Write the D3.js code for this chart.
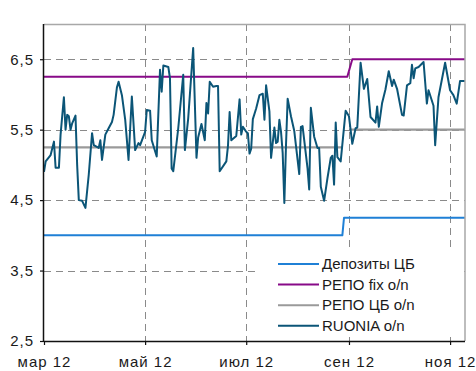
<!DOCTYPE html>
<html>
<head>
<meta charset="utf-8">
<script src="https://cdn.jsdelivr.net/npm/d3@7/dist/d3.min.js"></script>
<style>
  html, body { margin: 0; padding: 0; background: #fff; }
  svg { display: block; font-family: "Liberation Sans", Arial, sans-serif; }
</style>
</head>
<body>
<svg id="chart" width="476" height="371"></svg>
<script>
// RUONIA overnight rate, daily observations (%)
const ruoniaDates = [
  "2012-03-01","2012-03-02","2012-03-05","2012-03-07","2012-03-08","2012-03-10","2012-03-11","2012-03-13",
  "2012-03-14","2012-03-15","2012-03-16","2012-03-17","2012-03-18","2012-03-20","2012-03-21","2012-03-22",
  "2012-03-24","2012-03-26","2012-03-28","2012-03-30","2012-03-31","2012-04-03","2012-04-04","2012-04-05",
  "2012-04-07","2012-04-09","2012-04-11","2012-04-12","2012-04-14","2012-04-15","2012-04-17","2012-04-19",
  "2012-04-21","2012-04-23","2012-04-25","2012-04-27","2012-04-28","2012-05-01","2012-05-02","2012-05-04",
  "2012-05-05","2012-05-08","2012-05-10","2012-05-11","2012-05-12","2012-05-15","2012-05-16","2012-05-17",
  "2012-05-18","2012-05-21","2012-05-24","2012-05-25","2012-05-27","2012-05-30","2012-06-01","2012-06-02",
  "2012-06-04","2012-06-06","2012-06-07","2012-06-08","2012-06-09","2012-06-11","2012-06-13","2012-06-14",
  "2012-06-15","2012-06-19","2012-06-20","2012-06-21","2012-06-22","2012-06-25","2012-06-27","2012-06-28",
  "2012-06-29","2012-07-01","2012-07-02","2012-07-03","2012-07-04","2012-07-05","2012-07-07","2012-07-09",
  "2012-07-11","2012-07-12","2012-07-13","2012-07-15","2012-07-16","2012-07-18","2012-07-19","2012-07-20",
  "2012-07-21","2012-07-22","2012-07-23","2012-07-24","2012-07-25","2012-07-26","2012-07-28","2012-07-30",
  "2012-08-02","2012-08-03","2012-08-04","2012-08-07","2012-08-08","2012-08-09","2012-08-11","2012-08-13",
  "2012-08-14","2012-08-15","2012-08-17","2012-08-19","2012-08-21","2012-08-22","2012-08-23","2012-08-24",
  "2012-08-25","2012-08-27","2012-08-30","2012-09-01","2012-09-03","2012-09-05","2012-09-06","2012-09-08",
  "2012-09-10","2012-09-12","2012-09-14","2012-09-17","2012-09-18","2012-09-19","2012-09-21","2012-09-23",
  "2012-09-25","2012-09-27","2012-09-28","2012-09-30","2012-10-03","2012-10-04","2012-10-06","2012-10-08",
  "2012-10-09","2012-10-10","2012-10-11","2012-10-13","2012-10-16","2012-10-18","2012-10-19","2012-10-22",
  "2012-10-23","2012-10-25","2012-10-29","2012-11-01","2012-11-03","2012-11-05","2012-11-07","2012-11-10"
];
const ruoniaValues = [
  4.90, 5.05, 5.14, 5.33, 4.96, 4.96, 5.43, 5.96,
  5.50, 5.71, 5.69, 5.50, 5.59, 5.70, 5.00, 4.50,
  4.49, 4.39, 4.86, 5.45, 5.28, 5.24, 5.35, 5.07,
  5.43, 5.52, 5.61, 5.71, 6.10, 6.18, 5.99, 5.64,
  5.07, 5.97, 5.21, 5.31, 5.28, 5.47, 5.78, 5.77,
  5.35, 5.12, 6.35, 6.04, 6.41, 6.39, 6.23, 4.95,
  4.91, 5.52, 6.28, 5.21, 5.66, 6.66, 5.10, 5.39,
  5.58, 5.35, 5.88, 5.73, 6.18, 6.11, 6.12, 6.12,
  4.91, 5.05, 5.27, 5.75, 5.35, 5.41, 5.93, 5.43,
  5.54, 5.47, 5.45, 5.16, 5.23, 5.65, 5.80, 5.99,
  6.01, 5.64, 6.13, 5.76, 5.10, 5.53, 5.31, 5.33,
  5.64, 5.47, 5.17, 4.46, 5.28, 5.94, 5.69, 5.48,
  4.87, 5.54, 5.55, 4.95, 4.65, 5.81, 5.40, 5.24,
  5.24, 4.69, 4.49, 4.81, 5.10, 5.13, 4.72, 5.60,
  5.11, 5.05, 5.77, 5.69, 5.30, 5.52, 5.53, 6.45,
  6.08, 6.22, 5.68, 5.60, 5.83, 5.54, 5.88, 6.07,
  6.33, 6.12, 6.21, 6.08, 5.71, 5.70, 6.13, 6.16,
  6.42, 6.23, 6.37, 6.39, 6.46, 5.87, 6.06, 5.84,
  5.28, 5.96, 6.45, 6.06, 5.99, 5.87, 6.19, 6.19
];

// Central bank deposit rate (%)
const depoDates  = ["2012-03-01", "2012-08-28", "2012-08-29", "2012-11-10"];
const depoValues = [4.00, 4.00, 4.25, 4.25];

// Fixed-rate repo, overnight (%)
const repoFixDates  = ["2012-03-01", "2012-08-31", "2012-09-03", "2012-11-10"];
const repoFixValues = [6.25, 6.25, 6.50, 6.50];

// Central bank repo auction, overnight (%); null marks a break in the line
const repoCbDates  = ["2012-03-01", "2012-08-28", "2012-08-30", "2012-09-01", "2012-11-10"];
const repoCbValues = [5.25, 5.25, null, 5.50, 5.50];

// Axis ticks
const yTickValues = [2.5, 3.5, 4.5, 5.5, 6.5];
const yTickLabels = ["2,5", "3,5", "4,5", "5,5", "6,5"];
const xTickDates  = ["2012-03-01", "2012-05-01", "2012-07-01", "2012-09-01", "2012-11-01"];
const xTickLabels = ["мар 12", "май 12", "июл 12", "сен 12", "ноя 12"];

const seriesNames  = ["Депозиты ЦБ", "РЕПО fix o/n", "РЕПО ЦБ o/n", "RUONIA o/n"];
const seriesColors = ["#1f80d6", "#880a88", "#9a9a9a", "#0b5577"];

const parse = d3.utcParse("%Y-%m-%d");
const zip = (ds, vs) => ds.map((d, i) => ({ date: parse(d), value: vs[i] }));

const W = 476, H = 371;
const margin = { top: 24, right: 11, bottom: 30, left: 44 };
const iw = W - margin.left - margin.right;
const ih = H - margin.top - margin.bottom;

const svg = d3.select("#chart");
const g = svg.append("g").attr("transform", `translate(${margin.left},${margin.top})`);

const x = d3.scaleUtc()
  .domain([parse("2012-03-01"), parse("2012-11-10")])
  .range([0, iw]);
const y = d3.scaleLinear().domain([2.5, 7.0]).range([ih, 0]);

const xTicks = xTickDates.map(parse);

// Dashed grid
const grid = g.append("g").attr("stroke", "#8a8a8a").attr("stroke-width", 1)
  .attr("stroke-dasharray", "7,5").attr("fill", "none");
grid.selectAll("line.h").data(yTickValues.filter(v => v > 2.5)).join("line")
  .attr("class", "h")
  .attr("x1", 0).attr("x2", iw)
  .attr("y1", d => Math.round(y(d)) + 0.5).attr("y2", d => Math.round(y(d)) + 0.5);
grid.selectAll("line.v").data(xTicks.slice(1)).join("line")
  .attr("class", "v")
  .attr("y1", 0).attr("y2", ih)
  .attr("x1", d => Math.round(x(d)) + 0.5).attr("x2", d => Math.round(x(d)) + 0.5);

// Series lines
const line = d3.line()
  .defined(d => d.value != null)
  .x(d => x(d.date))
  .y(d => y(d.value));

const series = [
  zip(depoDates, depoValues),
  zip(repoFixDates, repoFixValues),
  zip(repoCbDates, repoCbValues),
  zip(ruoniaDates, ruoniaValues)
];
const widths = [2, 2, 2.2, 2];

series.forEach((data, i) => {
  g.append("path")
    .datum(data)
    .attr("fill", "none")
    .attr("stroke", seriesColors[i])
    .attr("stroke-width", widths[i])
    .attr("stroke-linejoin", "round")
    .attr("d", line);
});

// Frame: top and right edges
g.append("path")
  .attr("d", `M0,0.5H${iw}V${ih}`)
  .attr("fill", "none")
  .attr("stroke", "#a8a8a8")
  .attr("stroke-width", 1.5);

const tickFont = sel => sel
  .attr("font-size", 15)
  .attr("letter-spacing", 1)
  .attr("fill", "#1a1a1a")
  .attr("font-family", "Liberation Sans, Arial, sans-serif");

// Y axis
const yAxis = g.append("g")
  .call(d3.axisLeft(y)
    .tickValues(yTickValues)
    .tickFormat((d, i) => yTickLabels[i])
    .tickSize(4)
    .tickPadding(6));
yAxis.select(".domain").attr("d", `M-0.5,0V${ih}`).attr("stroke", "#111").attr("stroke-width", 1.5);
yAxis.selectAll(".tick line").attr("stroke", "#111").attr("stroke-width", 1.2);
yAxis.selectAll(".tick text").call(tickFont);

// X axis
const xAxis = g.append("g")
  .attr("transform", `translate(0,${ih})`)
  .call(d3.axisBottom(x)
    .tickValues(xTicks)
    .tickFormat((d, i) => xTickLabels[i])
    .tickSize(4)
    .tickPadding(11));
xAxis.select(".domain").attr("d", `M0,0.5H${iw}`).attr("stroke", "#111").attr("stroke-width", 1.5);
xAxis.selectAll(".tick line").attr("stroke", "#111").attr("stroke-width", 1.2);
xAxis.selectAll(".tick text").call(tickFont);

// Legend
const legend = g.append("g").attr("transform", `translate(${255 - margin.left},${248 - margin.top})`);
legend.append("rect")
  .attr("x", 0).attr("y", 0)
  .attr("width", 207).attr("height", 89)
  .attr("fill", "#fff");
const rows = legend.selectAll("g.row").data(seriesNames).join("g")
  .attr("class", "row")
  .attr("transform", (d, i) => `translate(0,${16 + i * 20.6})`);
rows.append("line")
  .attr("x1", 23).attr("x2", 64)
  .attr("y1", 0).attr("y2", 0)
  .attr("stroke", (d, i) => seriesColors[i])
  .attr("stroke-width", 2);
rows.append("text")
  .attr("x", 67).attr("y", 0).attr("dy", "0.35em")
  .attr("font-size", 15)
  .attr("fill", "#1a1a1a")
  .text(d => d);
</script>
</body>
</html>
